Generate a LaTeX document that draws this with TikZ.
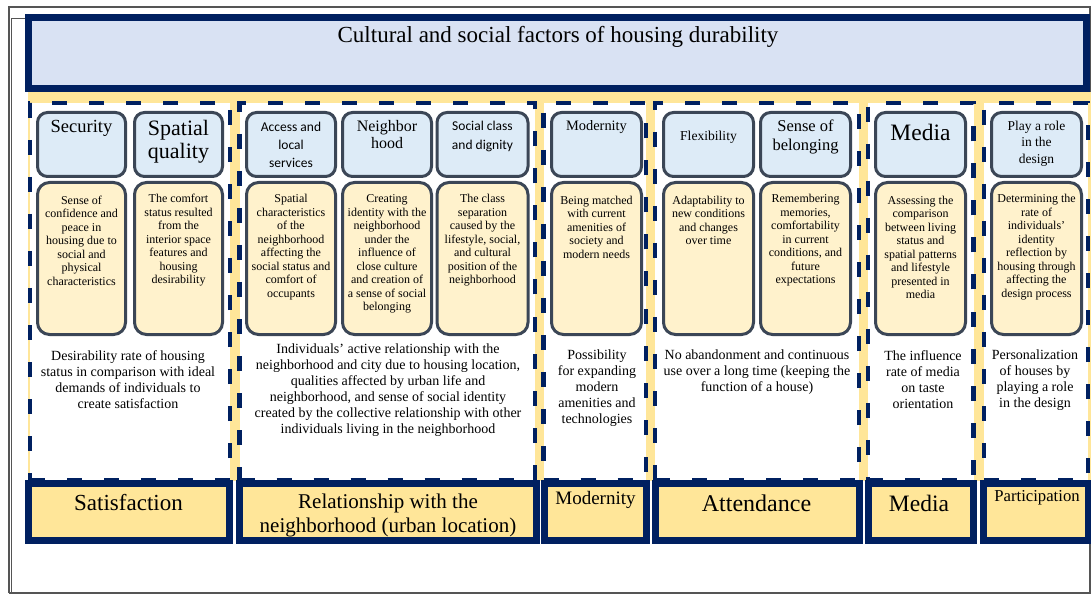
\documentclass[tikz,border=0pt]{standalone}
\usepackage{fontspec}
\setmainfont{Liberation Serif}
\newfontfamily\carlitofont{Carlito}
\definecolor{navy}{HTML}{002060}
\definecolor{titlefill}{HTML}{D9E2F3}
\definecolor{yellowbg}{HTML}{FFE699}
\definecolor{botfill}{HTML}{FFE699}
\definecolor{hdrfill}{HTML}{DDEBF7}
\definecolor{descfill}{HTML}{FFF2CC}
\definecolor{boxline}{HTML}{3B4656}
\definecolor{framegray}{HTML}{555555}
\begin{document}
\begin{tikzpicture}[x=1pt,y=-1pt,
  hdr/.style={draw=boxline, fill=hdrfill, line width=3pt, rounded corners=10pt, minimum height=64pt, inner sep=0pt},
  desc/.style={draw=boxline, fill=descfill, line width=3pt, rounded corners=12pt, minimum height=152pt, inner sep=0pt},
  colbox/.style={draw=navy, fill=white, line width=4.5pt, dash pattern=on 15pt off 22pt, inner sep=0pt, minimum height=377pt},
  botbox/.style={draw=navy, fill=botfill, line width=7pt, minimum height=57pt, inner sep=0pt},
  dtxt/.style={align=center, inner sep=0pt, font=\fontsize{12}{13.5}\selectfont},
  btxt/.style={align=center, inner sep=0pt, font=\fontsize{14}{16}\selectfont},
  htxt/.style={align=center, inner sep=0pt},
]
\useasboundingbox (0,0) rectangle (1091,601);
% page frame
\draw[framegray, line width=1.2pt] (9,593) -- (9,7) -- (1091,7);
\draw[framegray, line width=2pt] (9,593) -- (1091,593);
\draw[framegray, line width=0.8pt] (11.5,593) -- (11.5,18) -- (25,18);
\draw[framegray, line width=1.2pt] (1090,7) -- (1090,593);
% yellow background
\fill[yellowbg] (28,92) rectangle (1091,481);
% columns
\node[colbox, minimum width=200pt] (col1) at (130,291.5) {};
\node[colbox, minimum width=295.5pt] (col2) at (387.25,291.5) {};
\node[colbox, minimum width=102.5pt] (col3) at (594.75,291.5) {};
\node[colbox, minimum width=204pt] (col4) at (757,291.5) {};
\node[colbox, minimum width=105.5pt] (col5) at (920.75,291.5) {};
\node[colbox, minimum width=104pt] (col6) at (1036,291.5) {};
% title
\node[draw=navy, fill=titlefill, line width=7.5pt, minimum width=1058pt, minimum height=71pt, inner sep=0pt] (title) at (557.5,53) {};
\node[inner sep=0pt, font=\fontsize{23}{28}\selectfont] (ttl) at (558,37) {Cultural and social factors of housing durability};
% header boxes
\node[hdr, minimum width=88pt] (hSec) at (81.5,144.5) {};
\node[hdr, minimum width=88pt] (hSpa) at (178.5,144.5) {};
\node[hdr, minimum width=89pt] (hAcc) at (291,144.5) {};
\node[hdr, minimum width=89pt] (hNei) at (387,144.5) {};
\node[hdr, minimum width=91pt] (hSoc) at (482.5,144.5) {};
\node[hdr, minimum width=90pt] (hMod) at (596.5,144.5) {};
\node[hdr, minimum width=90pt] (hFle) at (708.5,144.5) {};
\node[hdr, minimum width=90pt] (hSen) at (805.5,144.5) {};
\node[hdr, minimum width=90pt] (hMed) at (920.5,144.5) {};
\node[hdr, minimum width=90pt] (hPla) at (1036.5,144.5) {};
% description boxes
\node[desc, minimum width=88pt] (dSec) at (81.5,258.5) {};
\node[desc, minimum width=88pt] (dSpa) at (178.5,258.5) {};
\node[desc, minimum width=89pt] (dAcc) at (291,258.5) {};
\node[desc, minimum width=89pt] (dNei) at (387,258.5) {};
\node[desc, minimum width=91pt] (dSoc) at (482.5,258.5) {};
\node[desc, minimum width=90pt] (dMod) at (596.5,258.5) {};
\node[desc, minimum width=90pt] (dFle) at (708.5,258.5) {};
\node[desc, minimum width=90pt] (dSen) at (805.5,258.5) {};
\node[desc, minimum width=90pt] (dMed) at (920.5,258.5) {};
\node[desc, minimum width=90pt] (dPla) at (1036.5,258.5) {};
% header texts
\node[htxt, font=\fontsize{18.5}{22}\selectfont] (tSec) at (81.5,128) {Security};
\node[htxt, font=\fontsize{22}{23}\selectfont] (tSpa) at (178.5,141.5) {Spatial\\quality};
\node[htxt, font=\carlitofont\fontsize{13.5}{18}\selectfont] (tAcc) at (291,145) {Access and\\local\\services};
\node[htxt, font=\fontsize{16}{17.5}\selectfont] (tNei) at (387,134.5) {Neighbor\\hood};
\node[htxt, font=\carlitofont\fontsize{13.5}{19}\selectfont] (tSoc) at (482.5,136.5) {Social class\\and dignity};
\node[htxt, font=\fontsize{14.4}{17}\selectfont] (tMod) at (596.5,127) {Modernity};
\node[htxt, font=\fontsize{13.6}{16}\selectfont] (tFle) at (708.5,137) {Flexibility};
\node[htxt, font=\fontsize{16.5}{19}\selectfont] (tSen) at (805.5,137) {Sense of\\belonging};
\node[htxt, font=\fontsize{23.5}{27}\selectfont] (tMed) at (920.5,132) {Media};
\node[htxt, font=\fontsize{13.5}{16.5}\selectfont] (tPla) at (1036.5,143.5) {Play a role\\in the\\design};
% description texts
\node[dtxt] (xSec) at (81.5,240.5) {Sense of\\confidence and\\peace in\\housing due to\\social and\\physical\\characteristics};
\node[dtxt] (xSpa) at (178.5,240.5) {The comfort\\status resulted\\from the\\interior space\\features and\\housing\\desirability};
\node[dtxt] (xAcc) at (291,247.25) {Spatial\\characteristics\\of the\\neighborhood\\affecting the\\social status and\\comfort of\\occupants};
\node[dtxt] (xNei) at (387,254) {Creating\\identity with the\\neighborhood\\under the\\influence of\\close culture\\and creation of\\a sense of social\\belonging};
\node[dtxt] (xSoc) at (482.5,240.5) {The class\\separation\\caused by the\\lifestyle, social,\\and cultural\\position of the\\neighborhood};
\node[dtxt] (xMod) at (596.5,227) {Being matched\\with current\\amenities of\\society and\\modern needs};
\node[dtxt] (xFle) at (708.5,220.25) {Adaptability to\\new conditions\\and changes\\over time};
\node[dtxt] (xSen) at (805.5,240.5) {Remembering\\memories,\\comfortability\\in current\\conditions, and\\future\\expectations};
\node[dtxt] (xMed) at (920.5,247.25) {Assessing the\\comparison\\between living\\status and\\spatial patterns\\and lifestyle\\presented in\\media};
\node[dtxt] (xPla) at (1036.5,247.25) {Determining the\\rate of\\individuals'\\identity\\reflection by\\housing through\\affecting the\\design process};
% column texts
\node[btxt] (bSat) at (128,380) {Desirability rate of housing\\status in comparison with ideal\\demands of individuals to\\create satisfaction};
\node[btxt] (bRel) at (388,390) {Individuals' active relationship with the\\neighborhood and city due to housing location,\\qualities affected by urban life and\\neighborhood, and sense of social identity\\created by the collective relationship with other\\individuals living in the neighborhood};
\node[btxt] (bMod) at (597,388) {Possibility\\for expanding\\modern\\amenities and\\technologies};
\node[btxt] (bAtt) at (757,372) {No abandonment and continuous\\use over a long time (keeping the\\function of a house)};
\node[btxt] (bMed) at (923,380) {The influence\\rate of media\\on taste\\orientation};
\node[btxt] (bPar) at (1035,380) {Personalization\\of houses by\\playing a role\\in the design};
% bottom boxes
\node[botbox, minimum width=201pt] (kSat) at (129,512) {};
\node[botbox, minimum width=297pt] (kRel) at (388,512) {};
\node[botbox, minimum width=102pt] (kMod) at (595.5,512) {};
\node[botbox, minimum width=204pt] (kAtt) at (757.5,512) {};
\node[botbox, minimum width=105pt] (kMed) at (921,512) {};
\node[botbox, minimum width=105pt] (kPar) at (1036,512) {};
\node[htxt, font=\fontsize{23}{26}\selectfont] (lSat) at (128.5,503) {Satisfaction};
\node[htxt, font=\fontsize{21}{24}\selectfont] (lRel) at (388,515) {Relationship with the\\neighborhood (urban location)};
\node[htxt, font=\fontsize{19}{22}\selectfont] (lMod) at (595.5,500) {Modernity};
\node[htxt, font=\fontsize{24}{27}\selectfont] (lAtt) at (756.5,503) {Attendance};
\node[htxt, font=\fontsize{23.5}{27}\selectfont] (lMed) at (919,503) {Media};
\node[htxt, font=\fontsize{16.7}{20}\selectfont] (lPar) at (1037,498) {Participation};
\end{tikzpicture}
\end{document}
